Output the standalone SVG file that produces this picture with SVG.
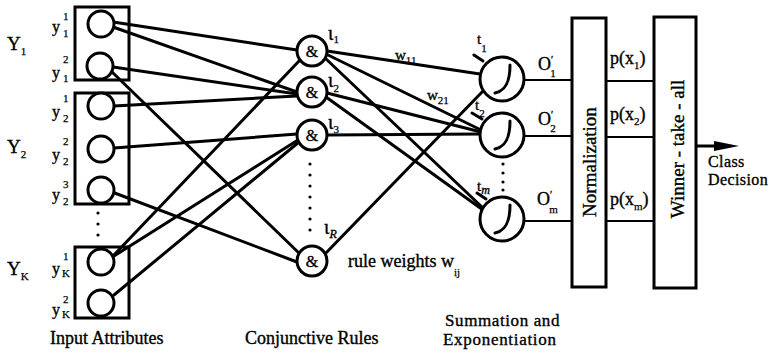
<svg xmlns="http://www.w3.org/2000/svg" width="775" height="353" viewBox="0 0 775 353" font-family="'Liberation Serif', 'DejaVu Serif', serif">
  <style>
    .ln { stroke: #000; stroke-width: 3; fill: none; stroke-linecap: round; }
    .thin { stroke: #000; stroke-width: 2.2; fill: none; }
    .box { stroke: #000; stroke-width: 3; fill: none; }
    .nd { stroke: #000; stroke-width: 3; fill: #fff; }
    text { font-family: "Liberation Serif", "DejaVu Serif", serif; fill: #000; stroke: #000; stroke-width: 0.35; }
    .big { font-size: 19px; }
    .lab { font-size: 18px; }
    .sm { font-size: 16px; }
    .ss { font-size: 11px; stroke-width: 0.25; }
    .pr { font-size: 10px; }
    .dot { fill: #000; }
  </style>

  <!-- connectors -->
  <g id="connectors">
    <!-- attribute values to conjunctive rules -->
    <path class="ln" d="M113,22 L297,50"/>
    <path class="ln" d="M113,27 L297,92"/>
    <path class="ln" d="M113,67 L297,94"/>
    <path class="ln" d="M112,72 L300,254"/>
    <path class="ln" d="M114,106 L297,96"/>
    <path class="ln" d="M114,148 L297,134"/>
    <path class="ln" d="M112,192 L297,262"/>
    <path class="ln" d="M113,256 L300,60"/>
    <path class="ln" d="M114,256 L298,140"/>
    <path class="ln" d="M114,295 L299,142"/>
    <!-- rules to summation units -->
    <path class="ln" d="M327,51 L480,74"/>
    <path class="ln" d="M326,54 L481,130"/>
    <path class="ln" d="M325,58 L483,208"/>
    <path class="ln" d="M327,93 L481,132"/>
    <path class="ln" d="M326,97 L483,210"/>
    <path class="ln" d="M327,135 L481,134"/>
    <path class="ln" d="M324,255 L484,90"/>
    <!-- threshold ticks -->
    <path class="ln" d="M474,55 L483,61"/>
    <path class="ln" d="M472,113 L482,119"/>
    <path class="ln" d="M477,193 L486,199"/>
    <!-- summation outputs to normalization -->
    <path class="thin" d="M524,80 L572,80"/>
    <path class="thin" d="M524,136 L572,136"/>
    <path class="thin" d="M524,221 L572,221"/>
    <!-- probabilities to winner-take-all -->
    <path class="thin" d="M606,81 L654,81"/>
    <path class="thin" d="M606,137 L654,137"/>
    <path class="thin" d="M606,221 L654,221"/>
    <!-- class decision arrow -->
    <path class="ln" d="M697,146 L718,146"/>
    <polygon points="714,141 739,146 714,151" fill="#000"/>
  </g>

  <!-- attribute Y1 -->
  <g id="attr-y1">
    <rect class="box" x="75" y="7" width="54" height="73"/>
    <circle class="nd" cx="101" cy="24" r="13"/>
    <circle class="nd" cx="100" cy="66" r="13"/>
    <text class="big" x="7" y="50">Y<tspan class="ss" font-size="12" dy="5">1</tspan></text>
    <text class="sm" x="52" y="32">y</text>
    <text class="ss" x="63" y="20">1</text>
    <text class="ss" x="63" y="37">1</text>
    <text class="sm" x="52" y="78">y</text>
    <text class="ss" x="63" y="63">2</text>
    <text class="ss" x="63" y="82">1</text>
  </g>

  <!-- attribute Y2 -->
  <g id="attr-y2">
    <rect class="box" x="75" y="93" width="54" height="111"/>
    <circle class="nd" cx="101" cy="106" r="13"/>
    <circle class="nd" cx="101" cy="149" r="13"/>
    <circle class="nd" cx="101" cy="190" r="13"/>
    <text class="big" x="7" y="153">Y<tspan class="ss" font-size="12" dy="5">2</tspan></text>
    <text class="sm" x="52" y="117">y</text>
    <text class="ss" x="63" y="102">1</text>
    <text class="ss" x="63" y="122">2</text>
    <text class="sm" x="52" y="160">y</text>
    <text class="ss" x="63" y="145">2</text>
    <text class="ss" x="63" y="165">2</text>
    <text class="sm" x="52" y="200">y</text>
    <text class="ss" x="63" y="188">3</text>
    <text class="ss" x="63" y="205">2</text>
  </g>

  <!-- continuation dots between attributes -->
  <g id="attr-dots">
    <circle class="dot" cx="98" cy="213" r="1.6"/>
    <circle class="dot" cx="98" cy="224" r="1.6"/>
    <circle class="dot" cx="98" cy="235" r="1.6"/>
  </g>

  <!-- attribute YK -->
  <g id="attr-yk">
    <rect class="box" x="75" y="247" width="54" height="71"/>
    <circle class="nd" cx="101" cy="262" r="13"/>
    <circle class="nd" cx="101" cy="303" r="13"/>
    <text class="big" x="7" y="275">Y<tspan class="ss" font-size="12" dy="5">K</tspan></text>
    <text class="sm" x="52" y="274">y</text>
    <text class="ss" x="63" y="260">1</text>
    <text class="ss" x="62" y="277">K</text>
    <text class="sm" x="52" y="315">y</text>
    <text class="ss" x="63" y="303">2</text>
    <text class="ss" x="62" y="318">K</text>
  </g>

  <!-- conjunctive rule units -->
  <g id="rule-1">
    <circle class="nd" cx="312" cy="51" r="15"/>
    <text class="sm" x="312" y="57" text-anchor="middle">&amp;</text>
    <text x="328" y="40" font-size="20">ι<tspan class="ss" dy="3">1</tspan></text>
  </g>
  <g id="rule-2">
    <circle class="nd" cx="312" cy="92" r="15"/>
    <text class="sm" x="312" y="98" text-anchor="middle">&amp;</text>
    <text x="328" y="87" font-size="20">ι<tspan class="ss" dy="5">2</tspan></text>
  </g>
  <g id="rule-3">
    <circle class="nd" cx="312" cy="135" r="15"/>
    <text class="sm" x="312" y="141" text-anchor="middle">&amp;</text>
    <text x="328" y="129" font-size="20">ι<tspan class="ss" dy="4">3</tspan></text>
  </g>
  <g id="rule-dots">
    <circle class="dot" cx="310" cy="164" r="1.6"/>
    <circle class="dot" cx="310" cy="175" r="1.6"/>
    <circle class="dot" cx="310" cy="186" r="1.6"/>
    <circle class="dot" cx="310" cy="197" r="1.6"/>
    <circle class="dot" cx="310" cy="208" r="1.6"/>
    <circle class="dot" cx="310" cy="219" r="1.6"/>
    <circle class="dot" cx="310" cy="230" r="1.6"/>
  </g>
  <g id="rule-r">
    <circle class="nd" cx="312" cy="261" r="15"/>
    <text class="sm" x="312" y="267" text-anchor="middle">&amp;</text>
    <text x="324" y="234" font-size="20">ι<tspan font-size="12" font-style="italic" dy="4">R</tspan></text>
  </g>

  <!-- rule weight labels -->
  <g id="weight-labels">
    <text x="395" y="60" font-size="15">w<tspan class="ss" font-size="10" dy="4">11</tspan></text>
    <text x="427" y="100" font-size="15">w<tspan class="ss" font-size="10" dy="4">21</tspan></text>
    <text class="lab" x="348" y="267">rule weights w<tspan class="ss" dy="9">ij</tspan></text>
  </g>

  <!-- summation and exponentiation units -->
  <g id="sum-1">
    <circle class="nd" cx="502" cy="79" r="22"/>
    <path class="ln" d="M510,65 C510,83 505,91 495,93"/>
    <text x="477" y="44" font-size="15">t<tspan class="ss" dy="8">1</tspan></text>
    <text class="lab" x="538" y="70">O<tspan class="pr" dy="-7">′</tspan><tspan class="ss" dx="-3" dy="14">1</tspan></text>
  </g>
  <g id="sum-2">
    <circle class="nd" cx="502" cy="135" r="22"/>
    <path class="ln" d="M510,121 C510,139 505,147 495,149"/>
    <text x="475" y="110" font-size="15">t<tspan class="ss" dy="7">2</tspan></text>
    <text class="lab" x="538" y="125">O<tspan class="pr" dy="-7">′</tspan><tspan class="ss" dx="-3" dy="14">2</tspan></text>
  </g>
  <g id="sum-dots">
    <circle class="dot" cx="503" cy="164" r="1.6"/>
    <circle class="dot" cx="503" cy="173" r="1.6"/>
    <circle class="dot" cx="503" cy="182" r="1.6"/>
    <circle class="dot" cx="503" cy="190" r="1.6"/>
  </g>
  <g id="sum-m">
    <circle class="nd" cx="502" cy="219" r="22"/>
    <path class="ln" d="M510,205 C510,223 505,231 495,233"/>
    <text x="477" y="191" font-size="15">t<tspan font-size="12" font-style="italic" dy="3">m</tspan></text>
    <text class="lab" x="537" y="205">O<tspan class="pr" dy="-7">′</tspan><tspan class="ss" dx="-3" dy="15">m</tspan></text>
  </g>

  <!-- normalization stage -->
  <g id="normalization">
    <rect class="box" x="572" y="18" width="34" height="269"/>
    <text font-size="19" text-anchor="middle" transform="translate(596,162) rotate(-90)">Normalization</text>
    <text class="lab" x="610" y="64">p(x<tspan class="ss" dy="5">1</tspan><tspan dy="-5">)</tspan></text>
    <text class="lab" x="610" y="120">p(x<tspan class="ss" dy="5">2</tspan><tspan dy="-5">)</tspan></text>
    <text class="lab" x="610" y="205">p(x<tspan class="ss" dy="5">m</tspan><tspan dy="-5">)</tspan></text>
  </g>

  <!-- winner-take-all stage -->
  <g id="winner">
    <rect class="box" x="654" y="17" width="42" height="271"/>
    <text font-size="19" text-anchor="middle" transform="translate(684,149) rotate(-90)">Winner - take - all</text>
  </g>

  <g id="decision">
    <text x="708" y="167" font-size="16" letter-spacing="0.4">Class</text>
    <text x="708" y="185" font-size="16" letter-spacing="0.4">Decision</text>
  </g>

  <!-- stage captions -->
  <g id="captions">
    <text class="lab" x="50" y="344">Input Attributes</text>
    <text class="lab" x="245" y="344">Conjunctive Rules</text>
    <text x="445" y="326" font-size="17" letter-spacing="0.6">Summation and</text>
    <text x="443" y="345" font-size="17" letter-spacing="0.7">Exponentiation</text>
  </g>
</svg>
